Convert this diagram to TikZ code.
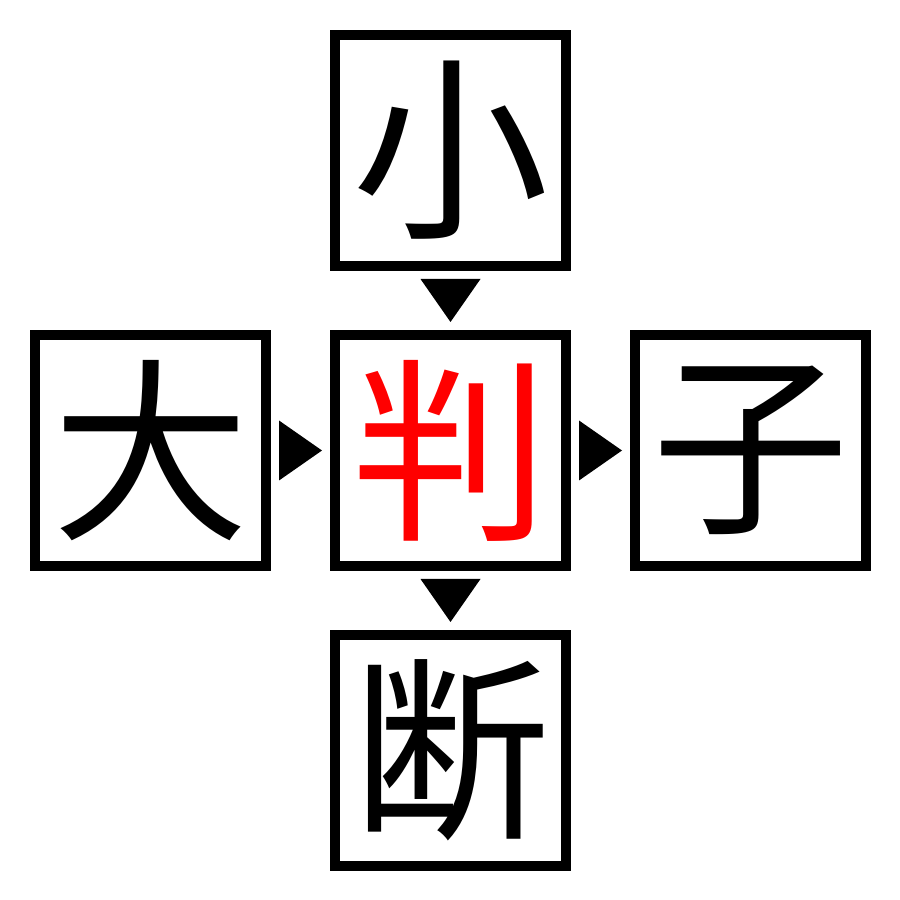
\documentclass[tikz,border=0pt]{standalone}
\usepackage{fontspec}
\usepackage{tikz}
\usetikzlibrary{calc,positioning}
\newfontfamily\cjk{Noto Sans CJK JP}
\definecolor{hanRed}{rgb}{1,0,0}

\begin{document}
\begin{tikzpicture}[
    kanji/.style={draw=black,line width=1mm,minimum size=2.31cm,inner sep=0pt,
                  font=\cjk\fontsize{56}{56}\selectfont},
    pointer/.style={fill=black}]

      \useasboundingbox (0,0) rectangle (9,9);

      \def\cGap{0.59}

      % the boxes
      \node[kanji,text=hanRed] (mid) at (4.505,4.495) {判};
      \node[kanji,above=\cGap of mid] (top) {小};
      \node[kanji,below=\cGap of mid] (bot) {断};
      \node[kanji,left=\cGap of mid] (lft) {大};
      \node[kanji,right=\cGap of mid] (rgt) {子};

      % the arrows between them
      \foreach \a/\b in {top/mid,mid/bot}
      {
        \coordinate (m) at ($(\a.south)!0.5!(\b.north)$);
        \fill[pointer] ($(m)+(-0.3,0.215)$) -- ($(m)+(0.3,0.215)$) -- ($(m)+(0,-0.215)$) -- cycle;
      }
      \foreach \a/\b in {lft/mid,mid/rgt}
      {
        \coordinate (m) at ($(\a.east)!0.5!(\b.west)$);
        \fill[pointer] ($(m)+(-0.215,0.3)$) -- ($(m)+(-0.215,-0.3)$) -- ($(m)+(0.215,0)$) -- cycle;
      }

\end{tikzpicture}
\end{document}
